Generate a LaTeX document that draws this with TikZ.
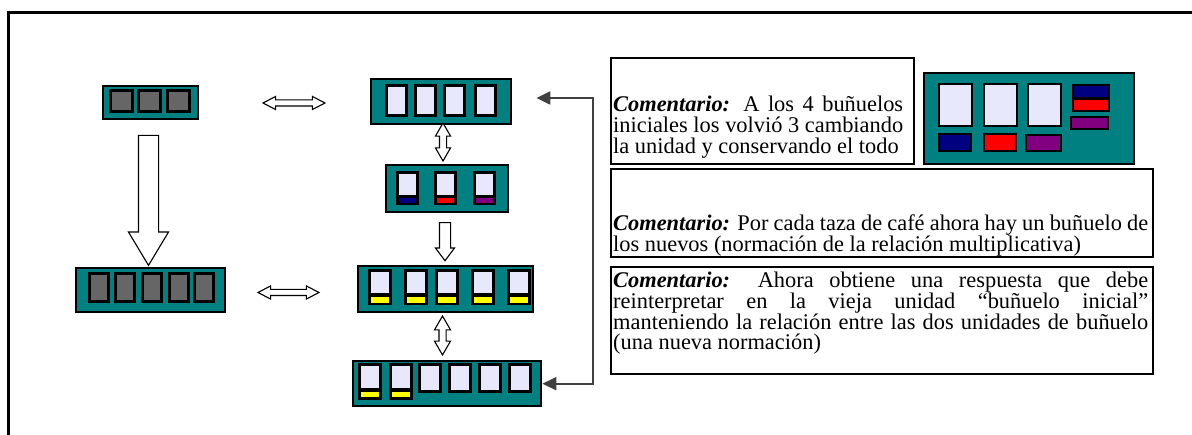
\documentclass[tikz,border=0pt]{standalone}
\usepackage{fontspec}
\setmainfont{Liberation Serif}
\usetikzlibrary{shapes.arrows,arrows.meta,calc}
\definecolor{trayteal}{RGB}{0,128,128}
\definecolor{cellgray}{RGB}{102,102,102}
\definecolor{celllav}{RGB}{232,232,252}
\definecolor{barnavy}{RGB}{0,0,128}
\definecolor{barred}{RGB}{255,0,0}
\definecolor{barpurple}{RGB}{128,0,128}
\definecolor{baryellow}{RGB}{255,255,0}
\definecolor{backgray}{RGB}{64,64,64}
\tikzset{
  tray/.style={draw=black, line width=2.4pt, fill=trayteal, inner sep=0pt, anchor=north west},
  cmtbox/.style={draw=black, line width=2pt, inner sep=0pt, anchor=north west},
  cmttext/.style={text width=#1, align=justify, inner sep=0pt, anchor=base west, font=\fontsize{22.4}{20.6}\selectfont},
  dblarrow/.style={double arrow, draw=black, fill=white, line width=1.1pt, double arrow head indent=0pt},
  sglarrow/.style={single arrow, draw=black, fill=white, line width=1.1pt, single arrow head indent=0pt, rotate=-90},
  backline/.style={draw=backgray, line width=2.2pt, {Triangle[length=14pt,width=13pt]}-{Triangle[length=14pt,width=13pt]}},
}
\begin{document}
\begin{tikzpicture}[x=1pt, y=-1pt]
	\useasboundingbox (0,0) rectangle (1192,435);
	% Outer frame
	\draw[line width=2.2pt] (8.5,435) -- (8.5,12.5) -- (1192,12.5);
	% Left column: initial and final trays
	\node[tray, minimum width=95pt, minimum height=33pt] (ini) at (102,85) {};
	\foreach \x in {109,137,166}
		\draw[line width=2.6pt, fill=cellgray] (\x+1.3,90.3) rectangle (\x+23.7,111.7);
	\node[tray, minimum width=149pt, minimum height=44pt] (fin) at (75,267) {};
	\foreach \x in {88,114,141,168,193}
		\draw[line width=2.6pt, fill=cellgray] (\x+1.3,273.3) rectangle (\x+20.7,301.7);
	% Middle column
	\node[tray, minimum width=140pt, minimum height=45pt] (m1) at (370,78) {};
	\foreach \x in {385,414,443,474}
		\draw[line width=2.6pt, fill=celllav] (\x+1.3,85.3) rectangle (\x+21.7,115.7);
	\node[tray, minimum width=122pt, minimum height=47pt] (m2) at (385,164) {};
	\foreach \x/\c in {396/barnavy,434/barred,473/barpurple} {
		\fill[black] (\x,171) rectangle ++(23,34);
		\fill[celllav] (\x+3,174) rectangle ++(17,21);
		\fill[\c] (\x+3,198) rectangle ++(17,5);
	}
	\node[tray, minimum width=175pt, minimum height=46pt] (m3) at (357,265) {};
	\foreach \x in {368,404,435,471,507} {
		\fill[black] (\x,269) rectangle ++(24,36);
		\fill[celllav] (\x+3,272) rectangle ++(18,21);
		\fill[baryellow] (\x+3,297) rectangle ++(18,6);
	}
	\node[tray, minimum width=188pt, minimum height=45pt] (m4) at (352,360) {};
	\foreach \x in {358,389} {
		\fill[black] (\x,363) rectangle ++(24,37);
		\fill[celllav] (\x+3,366) rectangle ++(18,22);
		\fill[baryellow] (\x+3,392) rectangle ++(18,5);
	}
	\foreach \x in {418,448,478,508}
		\draw[line width=2.6pt, fill=celllav] (\x+1.3,364.3) rectangle (\x+22.7,391.7);
	% Hollow arrows
	\node[dblarrow, inner sep=2.5pt, minimum height=62pt, double arrow head extend=3.5pt, double arrow tip angle=55] (hA) at (294,103) {};
	\node[dblarrow, inner sep=2.5pt, minimum height=61pt, double arrow head extend=3.5pt, double arrow tip angle=55] (hB) at (288.5,292.5) {};
	\node[dblarrow, rotate=90, inner sep=3pt, minimum height=38pt, double arrow head extend=4pt, double arrow tip angle=60] (vA) at (443,142) {};
	\node[dblarrow, rotate=90, inner sep=3pt, minimum height=39pt, double arrow head extend=4.5pt, double arrow tip angle=60] (vB) at (442.5,335.5) {};
	\node[sglarrow, inner sep=5pt, minimum height=38pt, single arrow head extend=4pt, single arrow tip angle=74] (dA) at (445,238) {};
	\node[sglarrow, inner sep=9.5pt, minimum height=130pt, single arrow head extend=10pt, single arrow tip angle=62] (dB) at (148.5,192) {};
	% Return connector
	\coordinate (ret) at (593,98);
	\draw[backline] ($(m1.east |- ret)+(24,0)$) -- (ret) |- (m4.east);
	% Comment boxes
	\node[cmtbox, minimum width=303pt, minimum height=106pt] (cmtA) at (610,57) {};
	\node[cmttext=290pt] (cmtAtxt) at (613,112) {\textbf{\textit{Comentario:}} A los 4 buñuelos\linebreak iniciales los volvió 3 cambiando\linebreak la unidad y conservando el todo};
	\node[cmtbox, minimum width=542pt, minimum height=88pt] (cmtB) at (610,168) {};
	\node[cmttext=535pt] (cmtBtxt) at (613,231) {\textbf{\textit{Comentario:}} Por cada taza de café ahora hay un buñuelo de\linebreak los nuevos (normación de la relación multiplicativa)};
	\node[cmtbox, minimum width=542pt, minimum height=107pt] (cmtC) at (610,266) {};
	\node[cmttext=535pt] (cmtCtxt) at (613,288) {\textbf{\textit{Comentario:}} Ahora obtiene una respuesta que debe\linebreak reinterpretar en la vieja unidad “buñuelo inicial”\linebreak manteniendo la relación entre las dos unidades de buñuelo\linebreak (una nueva normación)};
	% Small picture of the new units
	\node[tray, line width=2pt, minimum width=210pt, minimum height=91pt] (pic) at (923,72) {};
	\foreach \x in {938,983,1027}
		\draw[line width=2pt, fill=celllav] (\x+1,84) rectangle (\x+34,126);
	\draw[line width=2pt, fill=barnavy] (939,134) rectangle (971,151);
	\draw[line width=2pt, fill=barred] (984,134) rectangle (1016,151);
	\draw[line width=2pt, fill=barpurple] (1026,135) rectangle (1061,151);
	\draw[line width=2pt, fill=barnavy] (1073,85) rectangle (1109,98);
	\draw[line width=2pt, fill=barred] (1073,99) rectangle (1109,111);
	\draw[line width=2pt, fill=barpurple] (1071,117) rectangle (1108,129);
\end{tikzpicture}
\end{document}
